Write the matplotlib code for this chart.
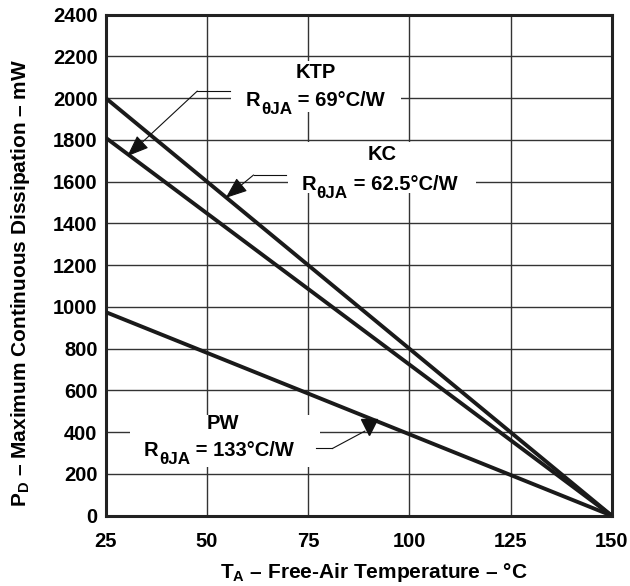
import matplotlib
matplotlib.use("Agg")
from matplotlib import pyplot as plt

plt.rcParams['font.family'] = ['Liberation Sans', 'DejaVu Sans']
plt.rcParams['font.weight'] = 'bold'
plt.rcParams['mathtext.fontset'] = 'custom'
plt.rcParams['mathtext.rm'] = 'Liberation Sans:bold'
plt.rcParams['mathtext.it'] = 'Liberation Sans:bold'
plt.rcParams['mathtext.bf'] = 'Liberation Sans:bold'

# derating curves: temperature (C) vs max dissipation (mW)
temps = [25, 150]
kc = [2000, 0]
ktp = [1810, 0]
pw = [975, 0]

xticks = [25, 50, 75, 100, 125, 150]
yticks = list(range(0, 2401, 200))

fig = plt.figure(figsize=(6.3, 5.86), dpi=100)
ax = fig.add_axes([0.168, 0.12, 0.803, 0.855])
ax.set_xlim(25, 150)
ax.set_ylim(0, 2400)
ax.set_xticks(xticks)
ax.set_yticks(yticks)
ax.grid(True, color='#333333', lw=1.0)
ax.set_axisbelow(True)
ax.tick_params(length=0, labelsize=14.5, pad=6)
ax.tick_params(axis='x', pad=12)
for s in ax.spines.values():
    s.set_linewidth(2.2)
    s.set_color('#222222')

for ys in (kc, ktp, pw):
    ax.plot(temps, ys, color='#1a1a1a', lw=2.8, solid_capstyle='butt', zorder=3)

fs = 14.5


def blank(x0, x1, y0, y1):
    ax.fill_between([x0, x1], y0, y1, color='white', zorder=2, lw=0)


def t_width(t):
    fig.canvas.draw()
    bb = t.get_window_extent()
    return bb.width * 72.0 / fig.dpi


def rtheta(x, y, rest):
    # "R" + lowered "θJA" + " = ...", chained left to right
    t1 = ax.text(x, y, 'R', ha='left', va='bottom', fontsize=fs, zorder=4)
    t2 = ax.annotate('θJA', xy=(1, 0), xycoords=t1, xytext=(0.5, -5),
                     textcoords='offset points', ha='left', va='bottom',
                     fontsize=fs * 0.85, zorder=4)
    ax.annotate(rest, xy=(1, 0), xycoords=t1, xytext=(t_width(t2) + 0.5, 0),
                textcoords='offset points', ha='left', va='bottom',
                fontsize=fs, zorder=4)


# white patches behind labels (break the grid)
blank(56, 98, 1935, 2180)
blank(70, 116.5, 1545, 1790)
blank(31, 78, 235, 480)

ax.text(77, 2125, 'KTP', ha='center', va='center', fontsize=fs, zorder=4)
rtheta(59.5, 1945, ' = 69°C/W')
ax.text(93.3, 1728, 'KC', ha='center', va='center', fontsize=fs, zorder=4)
rtheta(73.3, 1540, ' = 62.5°C/W')
ax.text(54, 440, 'PW', ha='center', va='center', fontsize=fs, zorder=4)
rtheta(34.3, 265, ' = 133°C/W')

arrow = dict(arrowstyle='-|>,head_length=0.9,head_width=0.35', color='#111111', lw=0.8,
             shrinkA=0, shrinkB=0, mutation_scale=15)
# KTP leader
ax.plot([55.8, 47.6], [2034, 2034], color='#111111', lw=0.8, zorder=4)
ax.annotate('', xy=(30.3, 1722), xytext=(47.6, 2034), arrowprops=arrow, zorder=4)
# KC leader
ax.plot([69.6, 61.5], [1632, 1632], color='#111111', lw=0.8, zorder=4)
ax.annotate('', xy=(54.6, 1522), xytext=(61.5, 1632), arrowprops=arrow, zorder=4)
# PW leader
ax.plot([77, 81], [322, 322], color='#111111', lw=0.8, zorder=4)
ax.plot([81, 89], [322, 405], color='#111111', lw=0.8, zorder=4)
ax.plot([90], [425], marker='v', ms=12, color='#111111', zorder=4)

ax.set_xlabel(r'T$_\mathrm{A}$ – Free-Air Temperature – °C', fontsize=15,
              fontweight='bold')
ax.set_ylabel(r'P$_\mathrm{D}$ – Maximum Continuous Dissipation – mW', fontsize=15,
              fontweight='bold')
ax.xaxis.set_label_coords(0.53, -0.09)
ax.yaxis.set_label_coords(-0.145, 0.465)

fig.savefig('out.png', dpi=100)
